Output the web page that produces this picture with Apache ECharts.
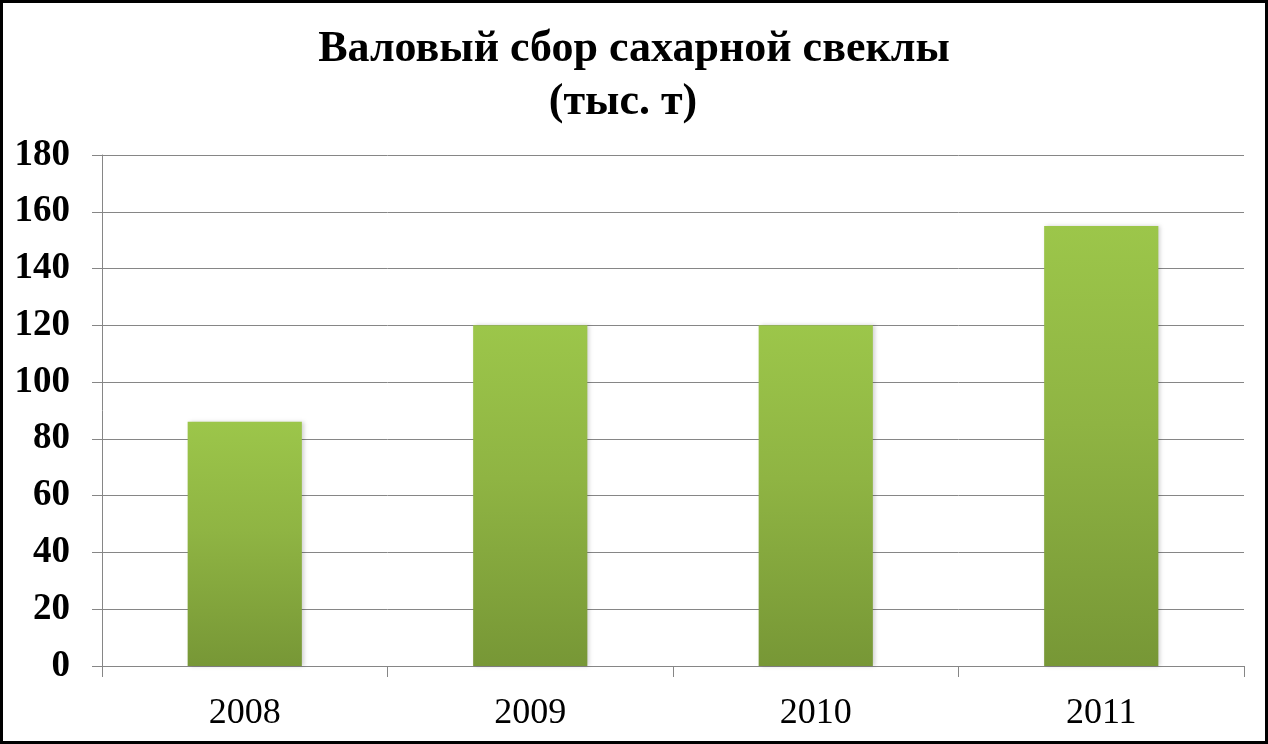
<!DOCTYPE html>
<html>
<head>
<meta charset="utf-8">
<script src="https://cdn.jsdelivr.net/npm/echarts@6/dist/echarts.min.js"></script>
<style>
html,body{margin:0;padding:0;background:#fff;}
#wrap{position:absolute;left:0;top:0;width:1268px;height:744px;box-sizing:border-box;border:3px solid #000;background:#fff;}
#chart{position:absolute;left:-3px;top:-3px;width:1268px;height:744px;}
</style>
</head>
<body>
<div id="wrap"><div id="chart"></div></div>
<script>
const titleText = 'Валовый сбор сахарной свеклы\n(тыс. т)  ';
const categories = ['2008', '2009', '2010', '2011'];
const values = [86, 120, 120, 155];
const yTicks = { min: 0, max: 180, interval: 20 };

const chart = echarts.init(document.getElementById('chart'));
chart.setOption({
  animation: false,
  title: {
    text: titleText,
    left: 'center',
    top: 18,
    textStyle: {
      fontFamily: 'Liberation Serif, Times New Roman, serif',
      fontWeight: 'bold',
      fontSize: 44,
      lineHeight: 53,
      color: '#000'
    }
  },
  grid: { left: 102, right: 24, top: 155, bottom: 78, containLabel: false },
  xAxis: {
    type: 'category',
    data: categories,
    axisLine: { show: true, lineStyle: { color: '#868686', width: 1 } },
    axisTick: { show: true, length: 11, alignWithLabel: false, lineStyle: { color: '#868686' } },
    axisLabel: {
      margin: 30,
      fontFamily: 'Liberation Serif, Times New Roman, serif',
      fontSize: 36,
      color: '#000'
    }
  },
  yAxis: {
    type: 'value',
    min: yTicks.min,
    max: yTicks.max,
    interval: yTicks.interval,
    axisLine: { show: true, lineStyle: { color: '#868686', width: 1 } },
    axisTick: { show: true, length: 10, lineStyle: { color: '#868686' } },
    splitLine: { show: true, lineStyle: { color: '#868686', width: 1 } },
    axisLabel: {
      margin: 32,
      fontFamily: 'Liberation Serif, Times New Roman, serif',
      fontWeight: 'bold',
      fontSize: 37,
      color: '#000'
    }
  },
  series: [{
    type: 'bar',
    data: values,
    barWidth: '40%',
    itemStyle: {
      color: new echarts.graphic.LinearGradient(0, 0, 0, 1, [
        { offset: 0, color: '#9cc64a' },
        { offset: 0.45, color: '#8fb443' },
        { offset: 1, color: '#779736' }
      ]),
      shadowColor: 'rgba(0,0,0,0.18)',
      shadowBlur: 4,
      shadowOffsetX: 2,
      shadowOffsetY: 0
    }
  }]
});
</script>
</body>
</html>
